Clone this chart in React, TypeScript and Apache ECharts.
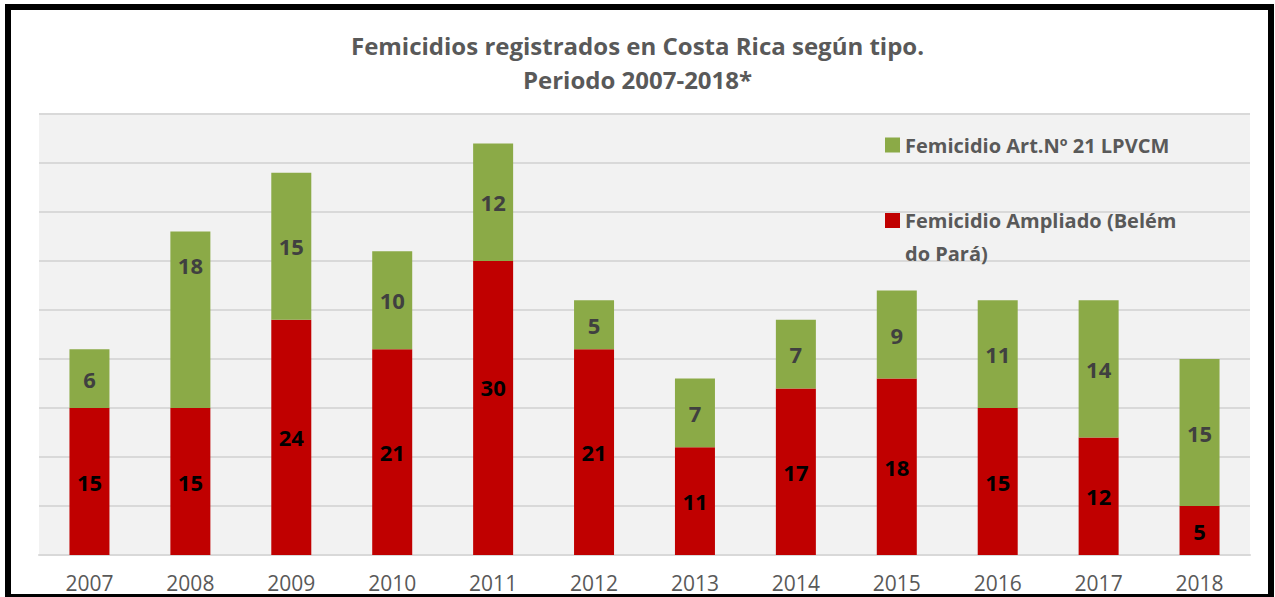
import React, { useEffect, useRef } from "react";
import * as echarts from "echarts";

const years = ["2007", "2008", "2009", "2010", "2011", "2012", "2013", "2014", "2015", "2016", "2017", "2018"];
const ampliado = [15, 15, 24, 21, 30, 21, 11, 17, 18, 15, 12, 5];
const art21 = [6, 18, 15, 10, 12, 5, 7, 7, 9, 11, 14, 15];
const nameArt21 = "Femicidio Art.Nº 21 LPVCM";
const nameAmpliado = "Femicidio Ampliado (Belém\ndo Pará)";
const titleText = "Femicidios registrados en Costa Rica según tipo.\nPeriodo 2007-2018*";

const FONT = "Open Sans";

export default function App() {
  const ref = useRef<HTMLDivElement>(null);
  useEffect(() => {
    if (!ref.current) return;
    const chart = echarts.init(ref.current, null, { renderer: "svg" });
    const redData = ampliado.map((v, i) =>
      i === 4 ? { value: v, label: { offset: [0, -21] } } : v
    );
    const greenData = art21.map((v, i) =>
      i === 1 ? { value: v, label: { offset: [0, -55] } } : v
    );
    chart.setOption({
      animation: false,
      backgroundColor: "#ffffff",
      title: {
        text: titleText,
        left: "center",
        top: 23,
        textStyle: {
          fontFamily: FONT,
          fontSize: 24,
          fontWeight: "bold",
          color: "#595959",
          lineHeight: 34,
        },
      },
      legend: [
        {
          data: [nameArt21],
          orient: "vertical",
          left: 885,
          top: 133,
          padding: 0,
          icon: "rect",
          itemWidth: 15,
          itemHeight: 15,
          textStyle: { fontFamily: FONT, fontSize: 20, fontWeight: "bold", color: "#595959", lineHeight: 24 },
        },
        {
          data: [nameAmpliado],
          orient: "vertical",
          left: 885,
          top: 171,
          padding: 0,
          icon: "rect",
          itemWidth: 15,
          itemHeight: 15,
          formatter: (name: string) => "\n" + name,
          textStyle: {
            fontFamily: FONT,
            fontSize: 20,
            fontWeight: "bold",
            color: "#595959",
            lineHeight: 33,
          },
        },
      ],
      grid: {
        left: 39,
        right: 25,
        top: 114,
        bottom: 42,
        show: true,
        backgroundColor: "#F2F2F2",
        borderWidth: 0,
      },
      xAxis: {
        type: "category",
        data: years,
        axisLine: { lineStyle: { color: "#D9D9D9", width: 2 } },
        axisTick: { show: false },
        axisLabel: { fontFamily: FONT, fontSize: 21, color: "#595959", margin: 17 },
      },
      yAxis: {
        type: "value",
        min: 0,
        max: 45,
        interval: 5,
        axisLabel: { show: false },
        axisLine: { show: false },
        axisTick: { show: false },
        splitLine: { lineStyle: { color: "#D9D9D9", width: 2 } },
      },
      series: [
        {
          name: nameAmpliado,
          type: "bar",
          stack: "total",
          barWidth: 40,
          data: redData,
          itemStyle: { color: "#C00000" },
          label: {
            show: true,
            position: "inside",
            fontFamily: FONT,
            fontSize: 22,
            fontWeight: "bold",
            color: "#000000",
          },
        },
        {
          name: nameArt21,
          type: "bar",
          stack: "total",
          barWidth: 40,
          data: greenData,
          itemStyle: { color: "#8BAA47" },
          label: {
            show: true,
            position: "inside",
            fontFamily: FONT,
            fontSize: 22,
            fontWeight: "bold",
            color: "#404040",
          },
        },
      ],
      graphic: [
        {
          type: "rect",
          shape: { x: 8, y: 7, width: 1263, height: 590 },
          style: { fill: "none", stroke: "#000000", lineWidth: 6 },
          silent: true,
          z: 100,
        },
      ],
    });
    return () => chart.dispose();
  }, []);
  return (
    <div
      ref={ref}
      style={{ position: "fixed", left: 0, top: 0, width: 1275, height: 597, background: "#fff" }}
    />
  );
}
